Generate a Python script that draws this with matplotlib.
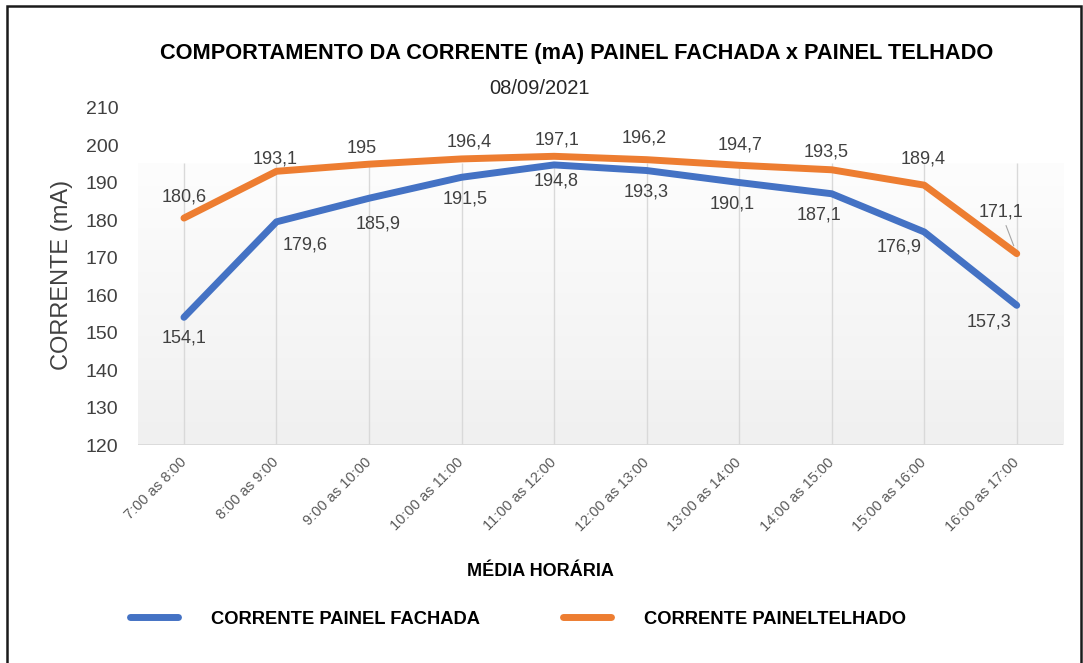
import numpy as np
import matplotlib
matplotlib.use("Agg")
import matplotlib.pyplot as plt
from matplotlib.colors import LinearSegmentedColormap
from matplotlib.patches import Rectangle

# dados
horarios = ["7:00 as 8:00", "8:00 as 9:00", "9:00 as 10:00", "10:00 as 11:00",
            "11:00 as 12:00", "12:00 as 13:00", "13:00 as 14:00",
            "14:00 as 15:00", "15:00 as 16:00", "16:00 as 17:00"]
fachada = [154.1, 179.6, 185.9, 191.5, 194.8, 193.3, 190.1, 187.1, 176.9, 157.3]
telhado = [180.6, 193.1, 195.0, 196.4, 197.1, 196.2, 194.7, 193.5, 189.4, 171.1]
y_ticks = [120, 130, 140, 150, 160, 170, 180, 190, 200, 210]

# deslocamento dos rotulos (pixels)
off_fachada = [(0, -21), (29, -23), (9, -26), (4, -22), (2, -16),
               (0, -21), (-7, -21), (-13, -21), (-25, -15), (-28, -17)]
off_telhado = [(0, 21), (-1, 12), (-7, 16), (8, 17), (3, 16),
               (-2, 22), (1, 20), (-6, 18), (-1, 26), (-16, 42)]

BLUE = "#4472C4"
ORANGE = "#ED7D31"
TXT = "#404040"

plt.rcParams['font.family'] = ['Liberation Sans', 'DejaVu Sans']


def fmt(v):
    s = f"{v:.1f}".replace(".", ",")
    return s[:-2] if s.endswith(",0") else s


def main():
    W, H = 1083, 663
    fig = plt.figure(figsize=(W / 100, H / 100), dpi=100)
    ax = fig.add_axes([137.7 / W, 1 - 445 / H, (1063 - 137.7) / W, (445 - 108) / H])

    x = np.arange(len(horarios))

    # fundo em degrade
    cmap = LinearSegmentedColormap.from_list("bg", ["#f0f0f0", "#fdfdfd"])
    grad = np.linspace(0, 1, 200).reshape(-1, 1)
    ax.imshow(grad, cmap=cmap, aspect="auto", origin="lower",
              extent=(-0.5, len(horarios) - 0.5, 120, 195.3), zorder=0)
    ax.vlines(x, 120, 195.3, color="#d9d9d9", lw=1.0, zorder=1)
    ax.axhline(120, color="#d9d9d9", lw=2, zorder=1)

    ax.plot(x, fachada, color=BLUE, lw=5, solid_capstyle="round",
            solid_joinstyle="round", zorder=3)
    ax.plot(x, telhado, color=ORANGE, lw=5, solid_capstyle="round",
            solid_joinstyle="round", zorder=3)

    for xi, v, off in zip(x, fachada, off_fachada):
        ax.annotate(fmt(v), (xi, v), xytext=off, textcoords="offset pixels",
                    ha="center", va="center", fontsize=13, color=TXT, zorder=4)
    for i, (xi, v, off) in enumerate(zip(x, telhado, off_telhado)):
        props = None
        if i == len(telhado) - 1:
            props = dict(arrowstyle="-", color="#a5a5a5", lw=0.8,
                         shrinkA=2, shrinkB=6)
        ax.annotate(fmt(v), (xi, v), xytext=off, textcoords="offset pixels",
                    ha="center", va="center", fontsize=13, color=TXT,
                    arrowprops=props, zorder=4)

    ax.set_xlim(-0.5, len(horarios) - 0.5)
    ax.set_ylim(120, 210)
    ax.set_yticks(y_ticks)
    ax.set_xticks(x)
    ax.set_xticklabels(horarios, rotation=45, ha="right", va="center",
                       rotation_mode="anchor", fontsize=10.5, color="#595959")
    ax.tick_params(axis="x", length=0, pad=11)
    ax.tick_params(axis="y", length=0, pad=14, labelsize=14, labelcolor=TXT)
    for s in ax.spines.values():
        s.set_visible(False)
    ax.patch.set_alpha(0)

    # titulos
    fig.text(577 / W, 1 - 53 / H,
             "COMPORTAMENTO DA CORRENTE (mA) PAINEL FACHADA x PAINEL TELHADO",
             ha="center", va="center", fontsize=15.7, fontweight="bold")
    fig.text(540 / W, 1 - 88 / H, "08/09/2021", ha="center", va="center",
             fontsize=14.5, color="#262626")
    fig.text(62 / W, 1 - 275 / H, "CORRENTE (mA)", rotation=90,
             ha="center", va="center", fontsize=17, color=TXT)
    fig.text(540 / W, 1 - 572 / H, "MÉDIA HORÁRIA", ha="center", va="center",
             fontsize=13, fontweight="bold")

    # legenda
    h1, = ax.plot([], [], color=BLUE, lw=5, solid_capstyle="round")
    h2, = ax.plot([], [], color=ORANGE, lw=5, solid_capstyle="round")
    fig.legend([h1, h2], ["CORRENTE PAINEL FACHADA", "CORRENTE PAINELTELHADO"],
               loc="center left", bbox_to_anchor=(130 / W, 1 - 619 / H),
               ncol=2, frameon=False, borderpad=0, borderaxespad=0,
               handlelength=2.6, handletextpad=1.8, columnspacing=4.55,
               prop={"size": 13.2, "weight": "bold"})

    # moldura
    fig.patches.append(Rectangle((7 / W, -0.05), (1081 - 7) / W, 1.05 - 6 / H,
                                 transform=fig.transFigure, fill=False,
                                 edgecolor="#1a1a1a", lw=1.8))

    fig.savefig("out.png", dpi=100)


if __name__ == "__main__":
    main()
